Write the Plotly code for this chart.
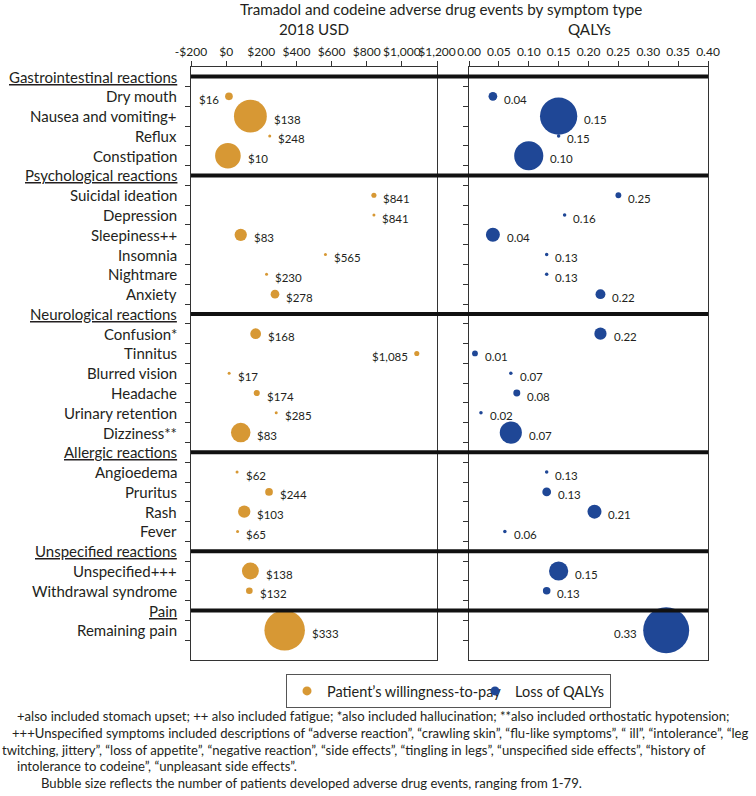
import plotly.graph_objects as go

# ---------------- data ----------------
group_names = ["Gastrointestinal reactions", "Psychological reactions", "Neurological reactions",
               "Allergic reactions", "Unspecified reactions", "Pain"]
group_items = [
    ["Dry mouth", "Nausea and vomiting+", "Reflux", "Constipation"],
    ["Suicidal ideation", "Depression", "Sleepiness++", "Insomnia", "Nightmare", "Anxiety"],
    ["Confusion*", "Tinnitus", "Blurred vision", "Headache", "Urinary retention", "Dizziness**"],
    ["Angioedema", "Pruritus", "Rash", "Fever"],
    ["Unspecified+++", "Withdrawal syndrome"],
    ["Remaining pain"],
]
wtp_usd = [16, 138, 248, 10,
           841, 841, 83, 565, 230, 278,
           168, 1085, 17, 174, 285, 83,
           62, 244, 103, 65,
           138, 132,
           333]
qaly_loss = [0.04, 0.15, 0.15, 0.10,
             0.25, 0.16, 0.04, 0.13, 0.13, 0.22,
             0.22, 0.01, 0.07, 0.08, 0.02, 0.07,
             0.13, 0.13, 0.21, 0.06,
             0.15, 0.13,
             0.33]
patients = [15, 64, 1, 50,
            10, 2, 24, 2, 2, 17,
            21, 10, 3, 12, 2, 38,
            3, 15, 24, 3,
            33, 13,
            79]
usd_ticks = [-200, 0, 200, 400, 600, 800, 1000, 1200]
qaly_ticks = [0.00, 0.05, 0.10, 0.15, 0.20, 0.25, 0.30, 0.35, 0.40]

wtp_label_left = {"Dry mouth", "Tinnitus"}
qaly_label_left = {"Remaining pain"}

footnotes = [
    "+also included stomach upset; ++ also included fatigue; *also included hallucination; **also included orthostatic hypotension;",
    "+++Unspecified symptoms included descriptions of \u201cadverse reaction\u201d, \u201ccrawling skin\u201d, \u201cflu-like symptoms\u201d, \u201c ill\u201d, \u201cintolerance\u201d, \u201cleg",
    "twitching, jittery\u201d, \u201closs of appetite\u201d, \u201cnegative reaction\u201d, \u201cside effects\u201d, \u201ctingling in legs\u201d, \u201cunspecified side effects\u201d, \u201chistory of",
    "intolerance to codeine\u201d, \u201cunpleasant side effects\u201d.",
    "Bubble size reflects the number of patients developed adverse drug events, ranging from 1-79.",
]

# ---------------- layout constants ----------------
W, H = 756, 796
FONT = "Lato"
TXT = "#231f20"
ORANGE = "#D79834"
BLUE = "#1F4796"

def px_x(p):
    return p / W

def px_y(p):
    return 1 - p / H

# rows
header_rows = []
item_rows = []
item_names = []
r = 0
for g, items in zip(group_names, group_items):
    header_rows.append(r)
    r += 1
    for it in items:
        item_rows.append(r)
        item_names.append(it)
        r += 1

Y_RANGE = [29.5, -0.5]
y_dom = [px_y(660), px_y(66.7)]
x1_dom = [px_x(191), px_x(437)]
x2_dom = [px_x(469), px_x(708)]

O_SIZEREF, O_SIZEMIN = 79 / 40.5, 1.5
B_SIZEREF, B_SIZEMIN = 79 / 46.0, 1.75

fig = go.Figure()
fig.add_trace(go.Scatter(
    x=wtp_usd, y=item_rows, mode="markers", xaxis="x", yaxis="y",
    marker=dict(size=patients, sizemode="diameter", sizeref=O_SIZEREF, sizemin=O_SIZEMIN,
                color=ORANGE, line=dict(width=0), opacity=1),
    showlegend=False, hoverinfo="skip"))
fig.add_trace(go.Scatter(
    x=qaly_loss, y=item_rows, mode="markers", xaxis="x2", yaxis="y2",
    marker=dict(size=patients, sizemode="diameter", sizeref=B_SIZEREF, sizemin=B_SIZEMIN,
                color=BLUE, line=dict(width=0), opacity=1),
    showlegend=False, hoverinfo="skip"))
# legend entries
fig.add_trace(go.Scatter(x=[None], y=[None], mode="markers", xaxis="x", yaxis="y",
                         marker=dict(size=9, color=ORANGE), name="Patient\u2019s willingness-to-pay",
                         legendwidth=143))
fig.add_trace(go.Scatter(x=[None], y=[None], mode="markers", xaxis="x2", yaxis="y2",
                         marker=dict(size=9, color=BLUE), name="Loss of QALYs"))

annotations = []
LABEL_SIZE = 15
# row labels
for g, hr in zip(group_names, header_rows):
    annotations.append(dict(xref="paper", yref="y", x=px_x(179), y=hr, xanchor="right", yanchor="middle",
                            text=f"<u>{g}</u>", showarrow=False, font=dict(family=FONT, size=LABEL_SIZE, color=TXT)))
for name, ir in zip(item_names, item_rows):
    annotations.append(dict(xref="paper", yref="y", x=px_x(179), y=ir, xanchor="right", yanchor="middle",
                            text=name, showarrow=False, font=dict(family=FONT, size=LABEL_SIZE, color=TXT)))

# value labels
def radius(n, sizeref, sizemin):
    return max(n / 2 / sizeref, sizemin)

for name, ir, v, q, n in zip(item_names, item_rows, wtp_usd, qaly_loss, patients):
    ro = radius(n, O_SIZEREF, O_SIZEMIN)
    left = name in wtp_label_left
    annotations.append(dict(xref="x", yref="y", x=v, y=ir, text=f"${v:,}", showarrow=False,
                            xanchor="right" if left else "left", yanchor="middle",
                            xshift=-(ro + 4) if left else (ro + 5), yshift=-3,
                            font=dict(family=FONT, size=11.5, color=TXT)))
    rb = radius(n, B_SIZEREF, B_SIZEMIN)
    left = name in qaly_label_left
    annotations.append(dict(xref="x2", yref="y2", x=q, y=ir, text=f"{q:.2f}", showarrow=False,
                            xanchor="right" if left else "left", yanchor="middle",
                            xshift=-(rb + 4) if left else (rb + 5), yshift=-3,
                            font=dict(family=FONT, size=11.5, color=TXT)))

# titles
TITLE_SIZE = 15.2
annotations.append(dict(xref="paper", yref="paper", x=px_x(441), y=px_y(9), xanchor="center", yanchor="middle",
                        text="Tramadol and codeine adverse drug events by symptom type", showarrow=False,
                        font=dict(family=FONT, size=TITLE_SIZE, color=TXT)))
annotations.append(dict(xref="paper", yref="paper", x=px_x(314), y=px_y(29), xanchor="center", yanchor="middle",
                        text="2018 USD", showarrow=False, font=dict(family=FONT, size=TITLE_SIZE, color=TXT)))
annotations.append(dict(xref="paper", yref="paper", x=px_x(589), y=px_y(29), xanchor="center", yanchor="middle",
                        text="QALYs", showarrow=False, font=dict(family=FONT, size=TITLE_SIZE, color=TXT)))

# footnotes
foot_x = [15, 10, 0, 15, 39]
foot_y = [716, 733, 750, 766, 783]
for t, fx, fy in zip(footnotes, foot_x, foot_y):
    annotations.append(dict(xref="paper", yref="paper", x=px_x(fx), y=px_y(fy), xanchor="left", yanchor="middle",
                            text=t, showarrow=False, font=dict(family=FONT, size=13.1, color=TXT)))

shapes = []
for hr in header_rows:
    shapes.append(dict(type="line", xref="paper", yref="y", x0=px_x(191), x1=px_x(708), y0=hr, y1=hr,
                       line=dict(color="#111111", width=4)))

axis_common = dict(showgrid=False, zeroline=False, showline=True, mirror=True, linecolor="#333333",
                   linewidth=1, ticks="outside", ticklen=5, tickcolor="#333333", tickwidth=1,
                   automargin=False, tickangle=0)

fig.update_layout(
    width=W, height=H, margin=dict(l=0, r=0, t=0, b=0, autoexpand=False),
    paper_bgcolor="white", plot_bgcolor="white",
    font=dict(family=FONT, color=TXT),
    xaxis=dict(domain=x1_dom, range=[-200, 1200], side="top", anchor="y",
               tickvals=usd_ticks,
               ticktext=[("-$" if t < 0 else "$") + f"{abs(t):,}" for t in usd_ticks],
               tickfont=dict(family=FONT, size=12, color=TXT), **axis_common),
    xaxis2=dict(domain=x2_dom, range=[0, 0.4], side="top", anchor="y2",
                tickvals=qaly_ticks, ticktext=[f"{t:.2f}" for t in qaly_ticks],
                tickfont=dict(family=FONT, size=12, color=TXT), **axis_common),
    yaxis=dict(domain=y_dom, range=Y_RANGE, anchor="x",
               tickvals=[i + 0.5 for i in range(29)], showticklabels=False, **axis_common),
    yaxis2=dict(domain=y_dom, range=Y_RANGE, anchor="x2", matches="y",
                tickvals=[i + 0.5 for i in range(29)], showticklabels=False, **axis_common),
    legend=dict(orientation="h", x=px_x(286), y=px_y(674), xanchor="left", yanchor="top",
                bordercolor="#555555", borderwidth=1, bgcolor="white",
                font=dict(family=FONT, size=14.5, color=TXT), tracegroupgap=0),
    annotations=annotations, shapes=shapes,
)

# remove the browser's default 8px page margin so the figure sits at the window corner
fig.write_html("out.html",
               config={"displayModeBar": False},
               post_script="document.body.style.margin='0';document.body.style.padding='0';")
